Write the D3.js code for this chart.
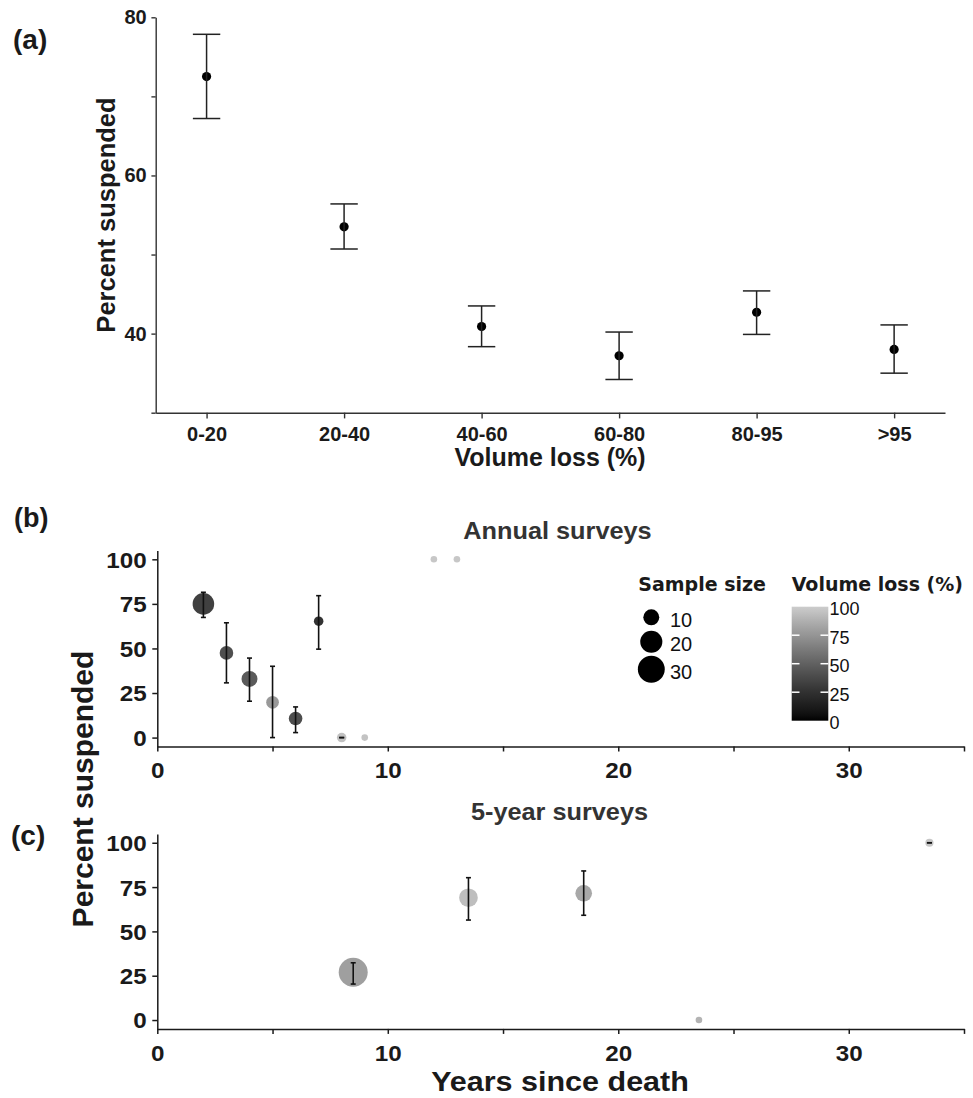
<!DOCTYPE html>
<html><head><meta charset="utf-8">
<script src="https://cdn.jsdelivr.net/npm/d3@7"></script>
<style>body{margin:0;background:#fff}svg{display:block}</style>
</head><body>
<svg id="chart" width="973" height="1098"></svg>
<script>
// ---------- DATA ----------
// Panel (a)
const catsA = ["0-20","20-40","40-60","60-80","80-95",">95"];
const meanA = [72.5, 53.5, 40.9, 37.2, 42.7, 38.0];
const lowA  = [67.2, 50.7, 38.35, 34.2, 39.9, 35.0];
const highA = [77.85, 56.4, 43.5, 40.2, 45.4, 41.1];
const yTicksA = [30, 40, 50, 60, 70, 80];
const yLabelsA = [40, 60, 80];

// Panel (b) annual surveys
const yearsB = [2, 3, 4, 5, 6, 7, 8, 9, 12, 13];
const pctB   = [75, 47.5, 32.9, 19.8, 10.7, 65.3, 0, 0, 100, 100];
const loB    = [67.4, 30.7, 20.4, 0, 2.8, 49.6, 0, null, null, null];
const hiB    = [81.5, 64.4, 44.6, 40, 17.2, 79.6, 0, null, null, null];
const nB     = [19, 7, 10, 6, 7, 3, 3, 1, 1, 1];
const volB   = [33, 41, 47, 77, 40, 26, 95, 96, 98, 98];

// Panel (c) 5-year surveys
const yearsC = [8.5, 13.5, 18.5, 23.5, 33.5];
const pctC   = [26.9, 69, 71.5, 0, 100];
const loC    = [20.3, 56.4, 59.1, null, 100];
const hiC    = [32.3, 80.3, 84.1, null, 100];
const nC     = [35, 14, 11, 1, 2];
const volC   = [80, 94, 84, 89, 98];

const xTicksBC = [0, 5, 10, 15, 20, 25, 30, 35];
const yTicksBC = [0, 25, 50, 75, 100];
const sizeLegend = [10, 20, 30];
const colTicks = [0, 25, 50, 75, 100];

// ---------- SETUP ----------
const svg = d3.select("#chart");
svg.append("rect").attr("width",973).attr("height",1098).attr("fill","#fff");
const ARIAL = "'Liberation Sans', Arial, sans-serif";
const WIDE = "'DejaVu Sans', Verdana, sans-serif";

function txt(x, y, s, o) {
  o = o || {};
  let tr = `translate(${x},${y})`;
  if (o.rot) tr += ` rotate(${o.rot})`;
  if (o.sx) tr += ` scale(${o.sx},1)`;
  return svg.append("text").attr("transform", tr).text(s)
    .attr("font-family", o.family || ARIAL)
    .attr("font-size", o.size || 20)
    .attr("font-weight", o.weight || "bold")
    .attr("fill", o.fill || "#1a1a1a")
    .attr("text-anchor", o.anchor || "start")
    .attr("dominant-baseline", o.base || "auto");
}

function styleAxis(g, fs, sx, stroke, sw) {
  g.select(".domain").attr("stroke", stroke).attr("stroke-width", sw);
  g.selectAll(".tick line").attr("stroke", stroke).attr("stroke-width", sw);
  g.selectAll(".tick text").attr("font-family", ARIAL).attr("font-size", fs)
    .attr("font-weight", "bold").attr("fill", "#1a1a1a");
  if (sx && sx !== 1) {
    g.selectAll(".tick text").each(function() {
      const t = d3.select(this);
      const x = +t.attr("x") || 0;
      t.attr("x", x / sx).attr("transform", `scale(${sx},1)`);
    });
  }
}

// ---------- PANEL A ----------
const xA = d3.scalePoint().domain(catsA).range([155.7, 945]).padding(0.37);
const yA = d3.scaleLinear().domain([30, 80]).range([412.7, 17.3]);

const gAx = svg.append("g").attr("transform", "translate(0,412.7)")
  .call(d3.axisBottom(xA).tickSize(5.7).tickSizeOuter(0).tickPadding(8));
styleAxis(gAx, 20, 1, "#333", 1.4);
const gAy = svg.append("g").attr("transform", "translate(155.7,0)")
  .call(d3.axisLeft(yA).tickValues(yTicksA).tickSize(4.3).tickSizeOuter(0).tickPadding(4.7)
    .tickFormat(d => yLabelsA.includes(d) ? d : ""));
styleAxis(gAy, 20, 1, "#333", 1.4);

const dataA = catsA.map((c, i) => ({c, m: meanA[i], lo: lowA[i], hi: highA[i]}));
const gA = svg.append("g");
gA.selectAll("circle.a").data(dataA).join("circle")
  .attr("cx", d => xA(d.c)).attr("cy", d => yA(d.m)).attr("r", 4.6).attr("fill", "#000");
const ebA = gA.selectAll("g.eb").data(dataA).join("g").attr("stroke", "#222").attr("stroke-width", 1.5);
ebA.append("line").attr("x1", d => xA(d.c)).attr("x2", d => xA(d.c))
  .attr("y1", d => yA(d.lo)).attr("y2", d => yA(d.hi));
ebA.append("line").attr("x1", d => xA(d.c) - 13.7).attr("x2", d => xA(d.c) + 13.7)
  .attr("y1", d => yA(d.lo)).attr("y2", d => yA(d.lo));
ebA.append("line").attr("x1", d => xA(d.c) - 13.7).attr("x2", d => xA(d.c) + 13.7)
  .attr("y1", d => yA(d.hi)).attr("y2", d => yA(d.hi));

txt(115, 215, "Percent suspended", {rot: -90, size: 25.5, anchor: "middle"});
txt(550, 466, "Volume loss (%)", {size: 25, anchor: "middle"});
txt(13, 49, "(a)", {size: 28});

// ---------- PANELS B & C ----------
const col = d3.scaleLinear().domain([0, 100]).range(["#000000", "#cccccc"]).interpolate(d3.interpolateLab);
const rS = d3.scaleRadial().domain([1, 35]).range([3.3, 14.5]);
const xBC = d3.scaleLinear().domain([0, 35]).range([157.3, 964]);

function panel(yRange, years, pct, lo, hi, n, vol) {
  const y = d3.scaleLinear().domain([-5, 105]).range(yRange);
  const gx = svg.append("g").attr("transform", `translate(0,${yRange[0]})`)
    .call(d3.axisBottom(xBC).tickValues(xTicksBC).tickSize(5).tickSizeOuter(0).tickPadding(11)
      .tickFormat(d => d % 10 === 0 ? d : ""));
  styleAxis(gx, 22, 1.1, "#1a1a1a", 1.5);
  const gy = svg.append("g").attr("transform", "translate(157.3,0)")
    .call(d3.axisLeft(y).tickValues(yTicksBC).tickSize(5).tickSizeOuter(0).tickPadding(5.6));
  styleAxis(gy, 22, 1.1, "#1a1a1a", 1.5);
  gy.selectAll(".tick text").attr("dy", "0.36em");

  const data = years.map((t, i) => ({t, p: pct[i], lo: lo[i], hi: hi[i], n: n[i], v: vol[i]}));
  const g = svg.append("g");
  g.selectAll("circle").data(data).join("circle")
    .attr("cx", d => xBC(d.t)).attr("cy", d => y(d.p)).attr("r", d => rS(d.n))
    .attr("fill", d => col(d.v));
  const eb = g.selectAll("g.eb").data(data.filter(d => d.lo !== null)).join("g")
    .attr("stroke", "#111").attr("stroke-width", 1.6);
  eb.append("line").attr("x1", d => xBC(d.t)).attr("x2", d => xBC(d.t))
    .attr("y1", d => y(d.lo)).attr("y2", d => y(d.hi));
  eb.append("line").attr("x1", d => xBC(d.t) - 2.5).attr("x2", d => xBC(d.t) + 2.5)
    .attr("y1", d => y(d.lo)).attr("y2", d => y(d.lo));
  eb.append("line").attr("x1", d => xBC(d.t) - 2.5).attr("x2", d => xBC(d.t) + 2.5)
    .attr("y1", d => y(d.hi)).attr("y2", d => y(d.hi));
  return y;
}

panel([746.5, 550.4], yearsB, pctB, loB, hiB, nB, volB);
panel([1028.9, 833.9], yearsC, pctC, loC, hiC, nC, volC);

txt(557.5, 539, "Annual surveys", {size: 23, sx: 1.1, anchor: "middle", fill: "#333"});
txt(559.5, 820, "5-year surveys", {size: 23, sx: 1.1, anchor: "middle", fill: "#333"});
txt(14, 527, "(b)", {size: 27});
txt(11, 845, "(c)", {size: 28});
txt(93, 789, "Percent suspended", {rot: -90, size: 30, anchor: "middle"});
txt(560, 1091, "Years since death", {size: 28, sx: 1.09, anchor: "middle"});

// ---------- LEGENDS ----------
txt(638.3, 591, "Sample size", {family: WIDE, size: 19, fill: "#1a1a1a"});
const legY = [617.3, 641.7, 669.3];
sizeLegend.forEach((s, i) => {
  svg.append("circle").attr("cx", 651.3).attr("cy", legY[i]).attr("r", rS(s)).attr("fill", "#000");
  txt(670, legY[i] + 2.5, String(s), {size: 20, weight: "normal", fill: "#111", base: "central"});
});

txt(791.7, 591, "Volume loss (%)", {family: WIDE, size: 19, fill: "#1a1a1a"});
const cbY = d3.scaleLinear().domain([0, 100]).range([720.7, 606.7]);
const defs = svg.append("defs");
const grad = defs.append("linearGradient").attr("id", "cbgrad")
  .attr("x1", 0).attr("y1", 1).attr("x2", 0).attr("y2", 0);
d3.range(0, 101, 5).forEach(v => grad.append("stop").attr("offset", v / 100).attr("stop-color", col(v)));
svg.append("rect").attr("x", 791.7).attr("y", cbY(100)).attr("width", 36.6)
  .attr("height", cbY(0) - cbY(100)).attr("fill", "url(#cbgrad)");
colTicks.forEach(v => {
  if (v > 0 && v < 100) {
    svg.append("line").attr("x1", 791.7).attr("x2", 799.5).attr("y1", cbY(v)).attr("y2", cbY(v))
      .attr("stroke", "#fff").attr("stroke-width", 1.5);
    svg.append("line").attr("x1", 820.5).attr("x2", 828.3).attr("y1", cbY(v)).attr("y2", cbY(v))
      .attr("stroke", "#fff").attr("stroke-width", 1.5);
  }
  txt(829.5, cbY(v) + 2.4, String(v), {size: 18, weight: "normal", fill: "#111", base: "central"});
});
</script>
</body></html>
